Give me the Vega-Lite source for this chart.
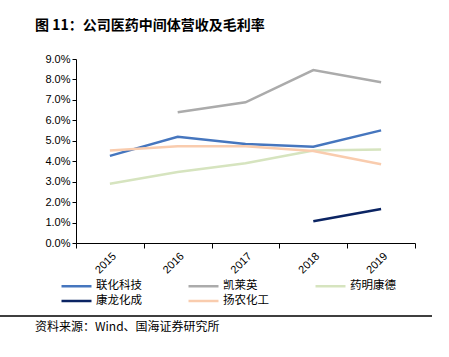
{
  "$schema": "https://vega.github.io/schema/vega-lite/v6.json",
  "width": 339,
  "height": 184,
  "autosize": {"type": "none"},
  "padding": {"left": 76, "top": 59, "right": 34, "bottom": 114},
  "background": "white",
  "config": {"view": {"stroke": null}, "font": "Noto Sans CJK SC"},
  "title": {
    "text": "图 11：公司医药中间体营收及毛利率",
    "anchor": "start",
    "frame": "group",
    "dx": -41,
    "offset": 20,
    "fontSize": 14,
    "fontWeight": "bold",
    "font": "Noto Sans CJK SC",
    "color": "#000000"
  },
  "layer": [
    {
      "data": {
        "values": [
          {"company": "联化科技", "year": "2015", "value": 0.0426},
          {"company": "联化科技", "year": "2016", "value": 0.052},
          {"company": "联化科技", "year": "2017", "value": 0.0484},
          {"company": "联化科技", "year": "2018", "value": 0.0471},
          {"company": "联化科技", "year": "2019", "value": 0.0551},
          {"company": "凯莱英", "year": "2016", "value": 0.0639},
          {"company": "凯莱英", "year": "2017", "value": 0.0688},
          {"company": "凯莱英", "year": "2018", "value": 0.0846},
          {"company": "凯莱英", "year": "2019", "value": 0.0786},
          {"company": "药明康德", "year": "2015", "value": 0.029},
          {"company": "药明康德", "year": "2016", "value": 0.0347},
          {"company": "药明康德", "year": "2017", "value": 0.039},
          {"company": "药明康德", "year": "2018", "value": 0.0452},
          {"company": "药明康德", "year": "2019", "value": 0.0457},
          {"company": "康龙化成", "year": "2018", "value": 0.0106},
          {"company": "康龙化成", "year": "2019", "value": 0.0166},
          {"company": "扬农化工", "year": "2015", "value": 0.0452},
          {"company": "扬农化工", "year": "2016", "value": 0.0473},
          {"company": "扬农化工", "year": "2017", "value": 0.0473},
          {"company": "扬农化工", "year": "2018", "value": 0.045},
          {"company": "扬农化工", "year": "2019", "value": 0.0385}
        ]
      },
      "mark": {"type": "line", "strokeWidth": 2.5},
      "encoding": {
        "x": {
          "field": "year",
          "type": "ordinal",
          "bandPosition": 0.5,
          "scale": {"type": "band", "paddingInner": 0, "paddingOuter": 0},
          "axis": {
            "title": null,
            "labelAngle": -45,
            "tickBand": "extent",
            "tickSize": 5,
            "tickColor": "#000000",
            "domainColor": "#000000",
            "labelColor": "#000000",
            "labelFont": "Liberation Sans",
            "labelFontSize": 11,
            "grid": false
          }
        },
        "y": {
          "field": "value",
          "type": "quantitative",
          "scale": {"domain": [0, 0.09]},
          "axis": {
            "title": null,
            "values": [0, 0.01, 0.02, 0.03, 0.04, 0.05, 0.06, 0.07, 0.08, 0.09],
            "format": ".1%",
            "tickSize": 4,
            "tickColor": "#000000",
            "domainColor": "#000000",
            "labelColor": "#000000",
            "labelFont": "Liberation Sans",
            "labelFontSize": 11,
            "labelPadding": 2,
            "grid": false
          }
        },
        "color": {
          "field": "company",
          "type": "nominal",
          "scale": {
            "domain": ["联化科技", "凯莱英", "药明康德", "康龙化成", "扬农化工"],
            "range": ["#4676BE", "#ABABAB", "#D6E4BF", "#0B2463", "#F9CCAE"]
          },
          "legend": {
            "title": null,
            "orient": "none",
            "legendX": -16,
            "legendY": 219,
            "columns": 3,
            "direction": "horizontal",
            "symbolType": "M-1,0H3.615",
            "symbolSize": 169,
            "symbolStrokeWidth": 2.5,
            "labelFontSize": 11.5,
            "labelColor": "#000000",
            "labelOffset": 20,
            "columnPadding": 41,
            "rowPadding": 1
          }
        }
      }
    },
    {
      "data": {"values": [{"pos": "top"}, {"pos": "bottom"}]},
      "mark": {"type": "rule", "color": "#333333", "strokeWidth": 1.5},
      "encoding": {
        "x": {"value": -76},
        "x2": {"value": 356},
        "y": {"condition": {"test": "datum.pos === 'top'", "value": -19}, "value": 257}
      }
    },
    {
      "data": {"values": [{"text": "资料来源：Wind、国海证券研究所"}]},
      "mark": {"type": "text", "align": "left", "baseline": "middle", "fontSize": 12, "color": "#000000", "font": "Noto Sans CJK SC"},
      "encoding": {
        "text": {"field": "text"},
        "x": {"value": -41},
        "y": {"value": 268}
      }
    }
  ]
}
